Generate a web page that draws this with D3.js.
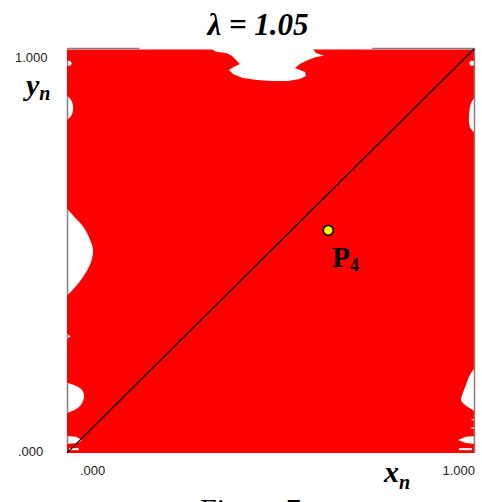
<!DOCTYPE html>
<html>
  <head>
    <script type="text/javascript" src="https://cdn.jsdelivr.net/npm/d3@7"></script>
    <style>
      body { margin: 0; background: #fff; }
    </style>
  </head>
  <body>
    <div id="viz"></div>
    <script type="text/javascript">
      // values (unit square, x_n / y_n)
      const titleText = "λ = 1.05";
      const xTicks = [0, 1];
      const xTickLabels = [".000", "1.000"];
      const yTicks = [0, 1];
      const yTickLabels = [".000", "1.000"];
      const diagonal = [[0, 0], [1, 1]];
      const pointP4 = [0.642, 0.551];

      // white (non-red) regions inside the square
      const holeTop = [[.356, 1.01], [.356, 1.0], [.366, .993], [.391, .990], [.405, .983], [.415, .973],
        [.425, .963], [.408, .955], [.398, .948], [.408, .938], [.432, .928], [.467, .923], [.504, .921],
        [.543, .921], [.572, .926], [.587, .933], [.585, .943], [.560, .953], [.572, .963], [.592, .973],
        [.612, .980], [.631, .983], [.612, .990], [.604, 1.0], [.604, 1.01]];
      const holeLeftUpper = [[-.005, .886], [.010, .874], [.015, .854], [.010, .834], [-.005, .824]];
      const holeLeftMid = [[-.005, .604], [.020, .582], [.042, .557], [.057, .527], [.064, .502],
        [.059, .473], [.044, .443], [.022, .413], [-.005, .391]];
      const holeLeftSmall = [[-.005, .297], [.009, .289], [-.005, .280]];
      const holeLeftLow = [[-.005, .171], [.022, .166], [.037, .156], [.042, .139], [.034, .119],
        [.017, .106], [-.005, .101]];
      const holeLeftStrip = [[-.005, .042], [.022, .040], [.037, .032], [.027, .025], [-.005, .022]];
      const holeLeftLine = [[.005, .012], [.029, .012], [.029, .007], [.005, .007]];
      const holeRightUpper = [[1.005, .881], [.993, .866], [.988, .837], [.990, .807], [1.005, .792]];
      const holeRightLow = [[1.005, .210], [.990, .193], [.980, .168], [.971, .144], [.968, .131],
        [.975, .121], [.990, .111], [1.005, .104]];
      const holeRightSpikeA = [[1.005, .085], [.992, .082], [1.005, .079]];
      const holeRightSpikeB = [[1.005, .065], [.990, .062], [1.005, .059]];
      const holeRightStrip = [[.961, .032], [.980, .040], [1.005, .042], [1.005, .022], [.980, .025]];
      const holeRightLine = [[.963, .012], [.995, .012], [.995, .007], [.963, .007]];
      const whiteDots = [[.005, .965], [.995, .965]];

      const smoothHoles = [holeLeftUpper, holeLeftMid, holeLeftLow, holeRightUpper, holeRightLow];
      const sharpHoles = [holeTop, holeLeftSmall, holeLeftStrip, holeLeftLine,
        holeRightSpikeA, holeRightSpikeB, holeRightStrip, holeRightLine];

      const width = 482;
      const height = 502;

      const x = d3.scaleLinear().domain([0, 1]).range([67, 474]);
      const y = d3.scaleLinear().domain([0, 1]).range([453, 49]);

      const serif = "'Liberation Serif', 'Times New Roman', serif";
      const sans = "'Liberation Sans', Arial, sans-serif";

      var svg = d3.select("#viz")
        .append("svg")
        .attr("width", width)
        .attr("height", height);

      const smoothLine = d3.line().x(d => x(d[0])).y(d => y(d[1])).curve(d3.curveCatmullRomClosed);
      const sharpLine = d3.line().x(d => x(d[0])).y(d => y(d[1])).curve(d3.curveLinearClosed);

      // clip for the left frame: it only shows through the white parts
      const clip = svg.append("clipPath").attr("id", "holes");
      smoothHoles.forEach(h => clip.append("path").attr("d", smoothLine(h)));
      sharpHoles.forEach(h => clip.append("path").attr("d", sharpLine(h)));
      whiteDots.forEach(d => clip.append("circle").attr("cx", x(d[0])).attr("cy", y(d[1])).attr("r", 3));

      // red basin
      svg.append("rect")
        .attr("x", x(0))
        .attr("y", y(1) + 0.5)
        .attr("width", x(1) - x(0))
        .attr("height", y(0) - y(1) - 0.5)
        .style("fill", "#ff0000");

      const holes = svg.append("g").style("fill", "#fff");
      holes.selectAll("path.smooth").data(smoothHoles).enter()
        .append("path").attr("class", "smooth").attr("d", smoothLine);
      holes.selectAll("path.sharp").data(sharpHoles).enter()
        .append("path").attr("class", "sharp").attr("d", sharpLine);
      holes.selectAll("circle").data(whiteDots).enter()
        .append("circle")
        .attr("cx", d => x(d[0]))
        .attr("cy", d => y(d[1]))
        .attr("r", 2.5);

      // frame
      const frame = svg.append("g").style("stroke", "#808080").style("stroke-width", 1.5).style("fill", "none");
      frame.append("line")
        .attr("x1", x(0) + 0.5).attr("x2", x(0) + 0.5)
        .attr("y1", y(1)).attr("y2", y(0))
        .attr("clip-path", "url(#holes)");
      frame.append("line")
        .attr("x1", x(1) + 0.5).attr("x2", x(1) + 0.5)
        .attr("y1", y(1) - 0.5).attr("y2", y(0));
      frame.append("line")
        .attr("x1", x(0)).attr("x2", x(0.178))
        .attr("y1", y(1) - 0.5).attr("y2", y(1) - 0.5);
      frame.append("line")
        .attr("x1", x(0.749)).attr("x2", x(1) + 1)
        .attr("y1", y(1) - 0.5).attr("y2", y(1) - 0.5);

      // diagonal y = x
      svg.append("path")
        .datum(diagonal)
        .attr("d", d3.line().x(d => x(d[0])).y(d => y(d[1])))
        .style("stroke", "#000")
        .style("stroke-width", 1.2)
        .style("fill", "none");

      // fixed point P4
      svg.append("circle")
        .attr("cx", x(pointP4[0]))
        .attr("cy", y(pointP4[1]))
        .attr("r", 5)
        .style("fill", "#ffff00")
        .style("stroke", "#000")
        .style("stroke-width", 1.6);

      const p4 = svg.append("text")
        .attr("x", x(pointP4[0]) + 4)
        .attr("y", y(pointP4[1]) + 37)
        .style("font-family", serif)
        .style("font-weight", "bold")
        .style("font-size", "29px")
        .text("P");
      p4.append("tspan")
        .attr("dy", 4)
        .style("font-size", "18px")
        .text("4");

      // tick labels
      svg.append("text")
        .attr("x", 15)
        .attr("y", y(yTicks[1]) + 12.5)
        .style("font-family", sans)
        .style("font-size", "13px")
        .style("fill", "#222")
        .text(yTickLabels[1]);
      svg.append("text")
        .attr("x", 18)
        .attr("y", y(yTicks[0]) + 3)
        .style("font-family", sans)
        .style("font-size", "13px")
        .style("fill", "#222")
        .text(yTickLabels[0]);
      svg.append("text")
        .attr("x", x(xTicks[0]) + 13)
        .attr("y", 475)
        .style("font-family", sans)
        .style("font-size", "13px")
        .style("fill", "#222")
        .text(xTickLabels[0]);
      svg.append("text")
        .attr("x", x(xTicks[1]) + 1)
        .attr("y", 475)
        .attr("text-anchor", "end")
        .style("font-family", sans)
        .style("font-size", "13px")
        .style("fill", "#222")
        .text(xTickLabels[1]);

      // axis names
      const yn = svg.append("text")
        .attr("x", 26)
        .attr("y", 95)
        .style("font-family", serif)
        .style("font-weight", "bold")
        .style("font-style", "italic")
        .style("font-size", "30px")
        .text("y");
      yn.append("tspan").attr("dy", 5).style("font-size", "20px").text("n");

      const xn = svg.append("text")
        .attr("x", 384)
        .attr("y", 482)
        .style("font-family", serif)
        .style("font-weight", "bold")
        .style("font-style", "italic")
        .style("font-size", "30px")
        .text("x");
      xn.append("tspan").attr("dy", 7).style("font-size", "20px").text("n");

      // title
      svg.append("text")
        .attr("x", 258)
        .attr("y", 35)
        .attr("text-anchor", "middle")
        .style("font-family", serif)
        .style("font-weight", "bold")
        .style("font-style", "italic")
        .style("font-size", "31px")
        .text(titleText);

      // caption, cut off by the window
      svg.append("text")
        .attr("x", 200)
        .attr("y", 519)
        .style("font-family", serif)
        .style("font-size", "30px")
        .text("Figure 7");
    </script>
  </body>
</html>
